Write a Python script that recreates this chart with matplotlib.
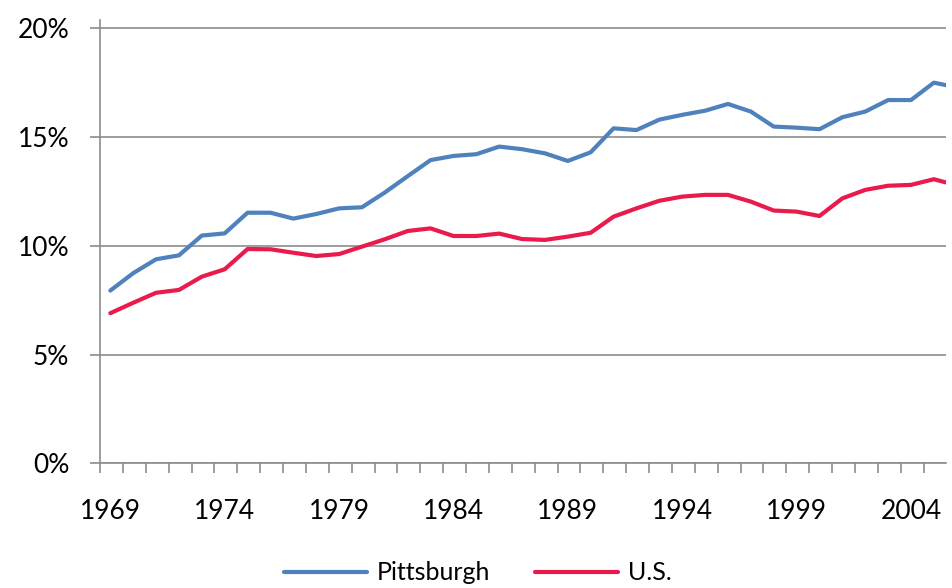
import matplotlib
matplotlib.use('Agg')
import matplotlib.pyplot as plt
import numpy as np
from matplotlib.ticker import FixedLocator, FuncFormatter

years = list(range(1969, 2007))
pittsburgh = [7.94, 8.74, 9.38, 9.56, 10.47, 10.57, 11.52, 11.52, 11.25, 11.46,
              11.72, 11.77, 12.45, 13.2, 13.94, 14.13, 14.21, 14.56, 14.44, 14.25,
              13.9, 14.3, 15.4, 15.32, 15.8, 16.02, 16.21, 16.52, 16.17, 15.48,
              15.43, 15.36, 15.91, 16.17, 16.7, 16.7, 17.5, 17.28]
us = [6.9, 7.38, 7.84, 7.97, 8.58, 8.92, 9.85, 9.84, 9.68, 9.53,
      9.62, 9.96, 10.3, 10.68, 10.8, 10.45, 10.45, 10.56, 10.31, 10.27,
      10.42, 10.6, 11.34, 11.72, 12.07, 12.26, 12.34, 12.34, 12.03, 11.62,
      11.57, 11.37, 12.18, 12.57, 12.76, 12.8, 13.06, 12.78]
label_years = [1969, 1974, 1979, 1984, 1989, 1994, 1999, 2004]
y_ticks = [0, 5, 10, 15, 20]

plt.rcParams['font.family'] = ['Lato', 'DejaVu Sans']

fig = plt.figure(figsize=(9.52, 5.88), dpi=100)
ax = fig.add_axes([100 / 952, 1 - 463.3 / 588, 846 / 952, (463.3 - 20) / 588])

x = np.arange(len(years))
ax.plot(x, pittsburgh, color='#4F81BD', lw=3, label='Pittsburgh', solid_capstyle='round')
ax.plot(x, us, color='#EA1A4C', lw=3, label='U.S.', solid_capstyle='round')

ax.set_xlim(-0.45, 36.53)
ax.set_ylim(0, 20.38)

grey = '#8C8C8C'
for s in ['top', 'right']:
    ax.spines[s].set_visible(False)
for s in ['left', 'bottom']:
    ax.spines[s].set_color(grey)
    ax.spines[s].set_linewidth(1.2)

ax.yaxis.set_major_locator(FixedLocator(y_ticks))
ax.yaxis.set_major_formatter(FuncFormatter(lambda v, p: '%d%%' % v))
ax.yaxis.grid(True, color=grey, lw=1.2)
ax.set_axisbelow(True)
ax.tick_params(axis='y', length=7.2, width=1.2, color=grey, pad=15, labelsize=19)

# ticks between categories, labels every five years
ax.xaxis.set_major_locator(FixedLocator(np.arange(-0.45, 36, 1.0)))
ax.xaxis.set_major_formatter(FuncFormatter(lambda v, p: ''))
ax.xaxis.set_minor_locator(FixedLocator([years.index(y) for y in label_years]))
ax.xaxis.set_minor_formatter(FuncFormatter(lambda v, p: str(years[int(round(v))])))
ax.tick_params(axis='x', which='major', length=7.2, width=1.2, color=grey)
ax.tick_params(axis='x', which='minor', length=0, pad=26, labelsize=19)

fig.legend(loc='center', bbox_to_anchor=(478 / 952, 1 - 573 / 588), ncol=2,
           frameon=False, fontsize=18, handlelength=3.3, handletextpad=0.4,
           columnspacing=1.8)

fig.savefig('out.png', dpi=100)
